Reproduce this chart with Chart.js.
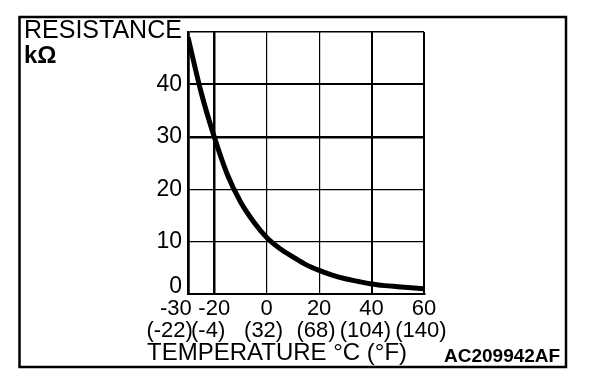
<!DOCTYPE html>
<html>
<head>
<meta charset="utf-8">
<script src="https://cdn.jsdelivr.net/npm/chart.js@4/dist/chart.umd.min.js"></script>
<style>
  html, body { margin: 0; padding: 0; background: #fff; }
  canvas { display: block; }
</style>
</head>
<body>
<canvas id="c" width="608" height="382"></canvas>
<script>
// ---- data ----
const temperaturesC = [-30, -25, -20, -15, -10, -5, 0, 5, 10, 15, 20, 25, 30, 35, 40, 45, 50, 55, 60];
const resistanceKOhm = [49, 38.5, 30, 22.8, 17.6, 13.8, 10.8, 8.7, 7.1, 5.6, 4.5, 3.6, 2.9, 2.4, 1.9, 1.6, 1.4, 1.2, 1.0];
const xTickValuesC = [-30, -20, 0, 20, 40, 60];
const xTickLabelsF = ['(-22)', '(-4)', '(32)', '(68)', '(104)', '(140)'];
const yTickValues = [0, 10, 20, 30, 40, 50];
const yTickLabels = ['0', '10', '20', '30', '40', ''];
const yTitleLine1 = 'RESISTANCE';
const yTitleLine2 = 'kΩ';
const xTitle = 'TEMPERATURE °C (°F)';
const figureCode = 'AC209942AF';

const FONT = '"Liberation Sans", Arial, Helvetica, sans-serif';

// trailing spaces nudge a centred label to the left
const shiftC = [4, 0, 0, 0, 0, 0];
const shiftF = [6, 2, 1, 1, 2, 1];
const sp = n => ' '.repeat(n);

const decorations = {
  id: 'decorations',
  afterDraw(chart) {
    const ctx = chart.ctx;
    ctx.save();
    ctx.strokeStyle = '#000';
    ctx.lineWidth = 2.5;
    ctx.strokeRect(19.5, 17, 546.5, 350);
    ctx.fillStyle = '#000';
    ctx.textBaseline = 'alphabetic';
    ctx.textAlign = 'left';
    ctx.font = '25px ' + FONT;
    ctx.fillText(yTitleLine1, 24, 38);
    ctx.font = 'bold 24px ' + FONT;
    ctx.fillText(yTitleLine2, 24, 63);
    ctx.font = '24px ' + FONT;
    ctx.fillText(xTitle, 147, 360);
    ctx.font = 'bold 19px ' + FONT;
    ctx.fillText(figureCode, 444, 362);
    ctx.restore();
  }
};

new Chart(document.getElementById('c'), {
  type: 'line',
  data: {
    datasets: [{
      data: temperaturesC.map((t, i) => ({ x: t, y: resistanceKOhm[i] })),
      borderColor: '#000',
      borderWidth: 5,
      pointRadius: 0,
      cubicInterpolationMode: 'monotone',
      fill: false
    }]
  },
  options: {
    responsive: false,
    animation: false,
    devicePixelRatio: 1,
    layout: { padding: { top: 32, right: 184, bottom: 0, left: 0 } },
    plugins: { legend: { display: false }, tooltip: { enabled: false } },
    scales: {
      x: {
        type: 'linear',
        min: -30,
        max: 60,
        afterBuildTicks: s => { s.ticks = xTickValuesC.map(v => ({ value: v })); },
        afterFit: s => { s.height = 88; },
        border: { display: true, color: '#000', width: 2 },
        grid: {
          color: '#000',
          drawTicks: false,
          lineWidth: c => (c.tick && (c.tick.value === -20 || c.tick.value === -30)) ? 2.5 : (c.tick && (c.tick.value === 40 || c.tick.value === 60)) ? 2 : 1.2
        },
        ticks: {
          color: '#000',
          padding: 4,
          maxRotation: 0,
          autoSkip: false,
          font: { family: FONT, size: 22, lineHeight: 1.0 },
          callback: v => {
            const i = xTickValuesC.indexOf(v);
            return [String(v) + sp(shiftC[i]), xTickLabelsF[i] + sp(shiftF[i])];
          }
        }
      },
      y: {
        type: 'linear',
        min: 0,
        max: 50,
        afterBuildTicks: s => { s.ticks = yTickValues.map(v => ({ value: v })); },
        afterFit: s => { s.width = 188; },
        border: { display: true, color: '#000', width: 2.5 },
        grid: {
          color: '#000',
          drawTicks: false,
          lineWidth: c => (c.tick && c.tick.value === 30) ? 2.5 : (c.tick && (c.tick.value === 40 || c.tick.value === 0)) ? 2 : (c.tick && c.tick.value === 50) ? 1.5 : 1.2
        },
        ticks: {
          color: '#000',
          padding: 6,
          autoSkip: false,
          font: { family: FONT, size: 23, lineHeight: 0.62 },
          callback: v => {
            const i = yTickValues.indexOf(v);
            return v === 0 ? [yTickLabels[i], ''] : yTickLabels[i];
          }
        }
      }
    }
  },
  plugins: [decorations]
});
</script>
</body>
</html>
